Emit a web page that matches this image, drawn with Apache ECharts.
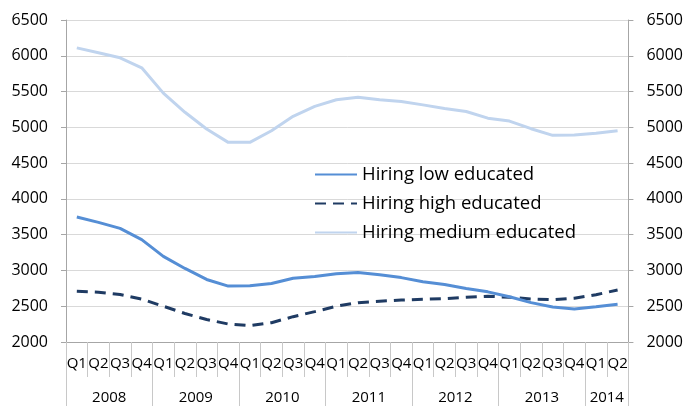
<!DOCTYPE html>
<html>
<head>
<meta charset="utf-8">
<script src="https://cdn.jsdelivr.net/npm/echarts@6/dist/echarts.min.js"></script>
<style>
html,body{margin:0;padding:0;background:#fff;}
#chart{width:686px;height:406px;}
</style>
</head>
<body>
<div id="chart"></div>
<script>
const quarters = ['Q1','Q2','Q3','Q4','Q1','Q2','Q3','Q4','Q1','Q2','Q3','Q4','Q1','Q2','Q3','Q4','Q1','Q2','Q3','Q4','Q1','Q2','Q3','Q4','Q1','Q2'];
const years = ['2008','2009','2010','2011','2012','2013','2014'];
const yTicks = [2000, 6500, 500];
const seriesNames = ['Hiring low educated','Hiring high educated','Hiring medium educated'];
const lowEducated = [3746,3672,3588,3430,3197,3028,2874,2781,2785,2818,2892,2916,2953,2972,2939,2900,2841,2804,2749,2701,2632,2550,2490,2462,2494,2527];
const highEducated = [2710,2696,2664,2600,2500,2398,2315,2251,2228,2270,2354,2424,2500,2550,2569,2587,2597,2606,2625,2639,2625,2601,2592,2611,2661,2727];
const mediumEducated = [6110,6042,5972,5832,5478,5210,4977,4790,4790,4953,5154,5293,5385,5422,5384,5360,5314,5263,5221,5128,5087,4981,4888,4893,4916,4953];

const yearPerQuarter = quarters.map((q, i) => years[Math.floor(i / 4)]);
const FONT = 'Open Sans';
const axisGray = '#a6a6a6';

const chart = echarts.init(document.getElementById('chart'), null, {renderer: 'canvas'});
const yAxisCommon = {
  type: 'value',
  min: yTicks[0], max: yTicks[1], interval: yTicks[2],
  axisLine: {show: true, lineStyle: {color: axisGray, width: 1}},
  axisTick: {show: true, length: 5, lineStyle: {color: axisGray}},
  axisLabel: {color: '#000', fontFamily: FONT, fontSize: 16, margin: 18, formatter: (v) => String(v)}
};
chart.setOption({
  animation: false,
  backgroundColor: '#fff',
  grid: {left: 66, right: 57, top: 20, bottom: 64},
  legend: {
    orient: 'vertical',
    left: 309, top: 160,
    itemWidth: 42, itemHeight: 14, itemGap: 10,
    itemStyle: {opacity: 0, borderWidth: 0},
    textStyle: {fontFamily: FONT, fontSize: 18.5, color: '#000', lineHeight: 19},
    data: seriesNames
  },
  xAxis: [
    {
      type: 'category', data: quarters, boundaryGap: true, position: 'bottom',
      axisLine: {show: true, lineStyle: {color: axisGray}},
      axisTick: {show: true, interval: 0, length: 35, lineStyle: {color: '#c8c8c8'}},
      axisLabel: {interval: 0, color: '#000', fontFamily: FONT, fontSize: 15, margin: 22, verticalAlign: 'middle'},
      splitLine: {show: false}
    },
    {
      type: 'category', data: yearPerQuarter, boundaryGap: true, position: 'bottom',
      axisLine: {show: false},
      axisTick: {show: true, length: 64, interval: (i) => i % 4 === 0, lineStyle: {color: '#c8c8c8'}},
      axisLabel: {
        interval: (i) => i % 4 === 1 || i === 24,
        color: '#000', fontFamily: FONT, fontSize: 15, margin: 56, verticalAlign: 'middle',
        padding: [0, 0, 0, 21.65]
      },
      splitLine: {show: false}
    }
  ],
  yAxis: [
    Object.assign({}, yAxisCommon, {position: 'left', splitLine: {show: true, lineStyle: {color: '#d9d9d9', width: 1}}}),
    Object.assign({}, yAxisCommon, {position: 'right', splitLine: {show: false}})
  ],
  series: [
    {
      name: seriesNames[2], type: 'line', data: mediumEducated, symbol: 'none',
      lineStyle: {color: '#c0d4ee', width: 3}, itemStyle: {color: '#c0d4ee'}
    },
    {
      name: seriesNames[1], type: 'line', data: highEducated, symbol: 'none',
      lineStyle: {color: '#1f3b63', width: 3, type: [11, 7]}, itemStyle: {color: '#1f3b63'}
    },
    {
      name: seriesNames[0], type: 'line', data: lowEducated, symbol: 'none',
      lineStyle: {color: '#558ed5', width: 3}, itemStyle: {color: '#558ed5'}
    }
  ]
});
</script>
</body>
</html>
